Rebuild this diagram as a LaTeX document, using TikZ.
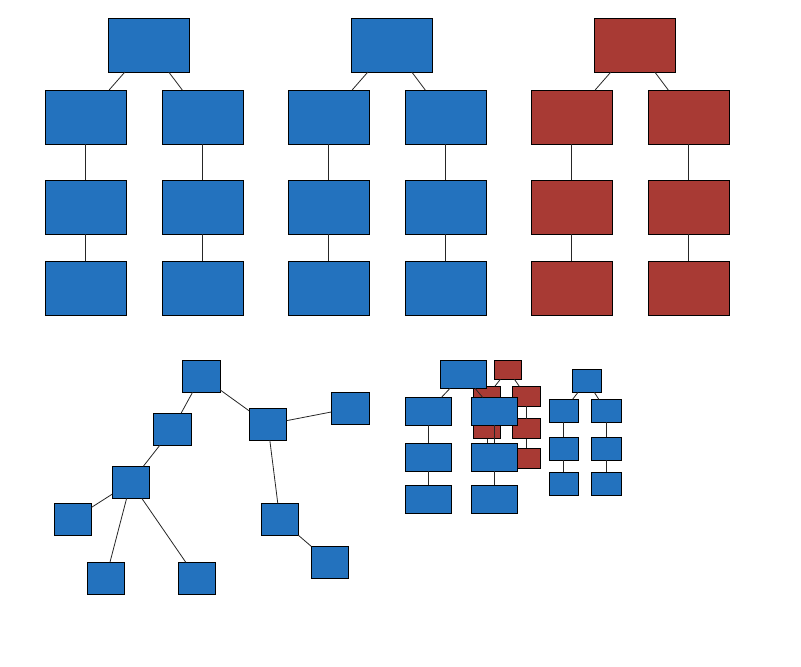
\documentclass[tikz,border=0pt]{standalone}
\definecolor{nblue}{RGB}{35,114,190}
\definecolor{nred}{RGB}{168,58,52}
\tikzset{
  bx/.style={draw=black, line width=0.9pt, inner sep=0pt, outer sep=0pt},
  bbox/.style={bx, fill=nblue},
  rbox/.style={bx, fill=nred},
  edge/.style={draw=black!85, line width=0.8pt},
}
\begin{document}
\begin{tikzpicture}[x=1pt,y=-1pt]
\useasboundingbox (0,0) rectangle (801,667);
% ---- top three trees ----
\foreach \t/\rx/\lx/\ux/\st in {a/148.5/85.5/202.5/bbox, b/391.5/328.5/445.5/bbox, c/634.5/571.5/688.5/rbox}{
  \node[\st, minimum width=81pt, minimum height=54pt] (\t r) at (\rx,45) {};
  \foreach \s/\x in {l/\lx, u/\ux}{
    \node[\st, minimum width=81pt, minimum height=54pt] (\t\s1) at (\x,117) {};
    \node[\st, minimum width=81pt, minimum height=54pt] (\t\s2) at (\x,207) {};
    \node[\st, minimum width=81pt, minimum height=54pt] (\t\s3) at (\x,288) {};
    \draw[edge] (\t r) -- (\t\s1);
    \draw[edge] (\t\s1) -- (\t\s2);
    \draw[edge] (\t\s2) -- (\t\s3);
  }
}
% ---- bottom-left free tree ----
\tikzset{sq/.style={bbox, minimum width=37.5pt, minimum height=32pt}}
\node[sq] (p0) at (201.3,376.3) {};
\node[sq] (pA) at (172.3,429.3) {};
\node[sq] (pB) at (267.8,424.3) {};
\node[sq] (pC) at (350.3,408.3) {};
\node[sq] (pD) at (130.8,482.3) {};
\node[sq] (pE) at (72.8,519.3) {};
\node[sq] (pF) at (105.8,578.3) {};
\node[sq] (pG) at (196.8,578.3) {};
\node[sq] (pH) at (279.8,519.3) {};
\node[sq] (pI) at (329.8,562.3) {};
\draw[edge] (p0) -- (pA);
\draw[edge] (p0) -- (pB);
\draw[edge] (pB) -- (pC);
\draw[edge] (pA) -- (pD);
\draw[edge] (pD) -- (pE);
\draw[edge] (pD) -- (pF);
\draw[edge] (pD) -- (pG);
\draw[edge] (pB) -- (pH);
\draw[edge] (pH) -- (pI);
% ---- red small tree (behind) ----
\tikzset{rs/.style={rbox, minimum width=27.5pt, minimum height=20pt}}
\node[rbox, minimum width=27pt, minimum height=19pt] (qr) at (507.8,369.8) {};
\foreach \s/\x in {l/487, u/526.3}{
  \node[rs] (q\s1) at (\x,396.3) {};
  \node[rs] (q\s2) at (\x,428.8) {};
  \node[rs] (q\s3) at (\x,458.3) {};
  \draw[edge] (qr) -- (q\s1);
  \draw[edge] (q\s1) -- (q\s2);
  \draw[edge] (q\s2) -- (q\s3);
}
% ---- blue mid tree (front) ----
\tikzset{ms/.style={bbox, minimum width=46pt, minimum height=28pt}}
\node[ms] (mr) at (463.3,374.3) {};
\foreach \s/\x in {l/428.3, u/494.3}{
  \node[ms] (m\s1) at (\x,411.3) {};
  \node[ms] (m\s2) at (\x,457.3) {};
  \node[ms] (m\s3) at (\x,499.3) {};
  \draw[edge] (mr) -- (m\s1);
  \draw[edge] (m\s1) -- (m\s2);
  \draw[edge] (m\s2) -- (m\s3);
}
% ---- small blue tree ----
\tikzset{ss/.style={bbox, minimum width=29.5pt, minimum height=23pt}}
\node[bbox, minimum width=29pt, minimum height=23pt] (sr) at (586.8,380.8) {};
\foreach \s/\x in {l/563.8, u/606.3}{
  \node[ss] (s\s1) at (\x,410.8) {};
  \node[ss] (s\s2) at (\x,448.8) {};
  \node[ss] (s\s3) at (\x,483.8) {};
  \draw[edge] (sr) -- (s\s1);
  \draw[edge] (s\s1) -- (s\s2);
  \draw[edge] (s\s2) -- (s\s3);
}
\end{tikzpicture}
\end{document}
